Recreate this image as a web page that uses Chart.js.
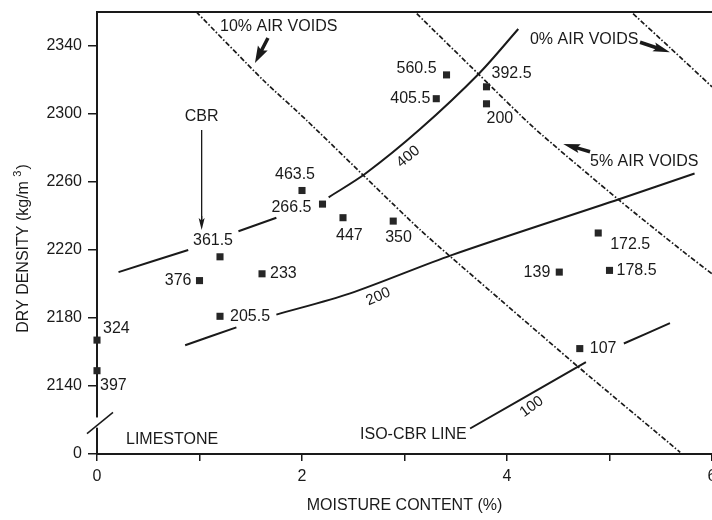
<!DOCTYPE html>
<html><head><meta charset="utf-8">
<script src="https://cdn.jsdelivr.net/npm/chart.js@4.4.1/dist/chart.umd.min.js"></script>
<style>
html,body{margin:0;padding:0;background:#fff;overflow:hidden;width:712px;height:520px;}
#wrap{position:absolute;left:0;top:0;width:740px;height:520px;}
</style></head><body>
<div id="wrap"><canvas id="c" width="740" height="520"></canvas></div>
<script>
// ---- data ----
const pointLabels = ['560.5','405.5','392.5','200','463.5','266.5','447','350','361.5','376','233','205.5','324','397','172.5','139','178.5','107'];
const pointX = [3.41, 3.31, 3.80, 3.80, 2.00, 2.20, 2.40, 2.89, 1.20, 1.00, 1.61, 1.20, 0.00, 0.00, 4.89, 4.51, 5.00, 4.71];
const pointY = [2323, 2309, 2316, 2306, 2255, 2247, 2239, 2237, 2216, 2202, 2206, 2181, 2167, 2149, 2230, 2207, 2208, 2162];

// iso-CBR lines (null = gap left for a label)
const cbr400X = [0.21, 0.89, 1.10, 1.38, 1.75, 2.00, 2.26, 2.62, 3.15, 3.73, 4.11];
const cbr400Y = [2207, 2220, null, 2231, 2239, null, 2251, 2265, 2291, 2324, 2350];
const cbr200X = [0.86, 1.36, 1.55, 1.75, 2.47, 3.46, 5.10, 5.83];
const cbr200Y = [2164, 2174.5, null, 2182, 2194.5, 2217, 2250, 2265];
const cbr100X = [3.64, 4.77, 4.95, 5.14, 5.59];
const cbr100Y = [2115, 2154, null, 2165, 2177];

// air-voids lines
const av10X = [0.97, 1.62, 2.05, 3.15, 3.93, 4.70, 5.69];
const av10Y = [2360, 2320, 2296, 2232, 2191, 2151, 2101];
const av5X = [3.12, 3.73, 4.26, 5.10, 5.72, 6.00];
const av5Y = [2359, 2323, 2292, 2249, 2219, 2206];
const av0X = [5.23, 5.59, 6.00];
const av0Y = [2359, 2339, 2316];

// axis ticks
const xTickValues = [0, 1, 2, 3, 4, 5, 6];
const xTickLabels = ['0', '', '2', '', '4', '', '6'];
const yTickValues = [2100, 2140, 2180, 2220, 2260, 2300, 2340];
const yTickLabels = ['0', '2140', '2180', '2220', '2260', '2300', '2340'];

// ---- layout / styling (not data) ----
// label placement relative to its marker: [dx, dy, align]
const labelPlace = [
  [-10,-6,'right'],[-6,0,'right'],[5,-13,'left'],[0,15,'left'],[-7,-16,'center'],[-11,3,'right'],
  [-7,18,'left'],[-8,16,'left'],[-7,-16,'center'],[-8,0,'right'],[8,0,'left'],[10,0,'left'],
  [6,-12,'left'],[3,15,'left'],[12,12,'left'],[-9,0,'right'],[7,0,'left'],[10,0,'left']
];
const INK = '#1a1a1a';
const FONT = '"Liberation Sans", Arial, Helvetica, sans-serif';

function pts(xs, ys){ return xs.map((x,i)=>({x:x, y:ys[i]})); }
function lineDs(label, xs, ys, dashed){
  return {label, data: pts(xs, ys), showLine:true, pointRadius:0, pointHoverRadius:0,
    borderColor: INK, borderWidth: dashed ? 1.7 : 2, borderDash: dashed ? [5,2,1.5,2] : [],
    tension: dashed ? 0.2 : 0.3, spanGaps:false, fill:false};
}

const annot = {
  id:'annot',
  afterDraw(chart){
    const ctx = chart.ctx, xs = chart.scales.x, ys = chart.scales.y, ca = chart.chartArea;
    const X = v => xs.getPixelForValue(v), Y = v => ys.getPixelForValue(v);
    ctx.save();
    ctx.fillStyle = INK; ctx.strokeStyle = INK;
    // top frame line
    ctx.lineWidth = 2;
    ctx.beginPath(); ctx.moveTo(ca.left - 1, ca.top); ctx.lineTo(ca.right + 3, ca.top); ctx.stroke();
    // axis break
    ctx.fillStyle = '#fff';
    ctx.fillRect(ca.left - 3, Y(2121.5), 6, Y(2115.5) - Y(2121.5));
    ctx.fillStyle = INK;
    ctx.lineWidth = 1.5;
    ctx.beginPath(); ctx.moveTo(ca.left - 10, Y(2112)); ctx.lineTo(ca.left + 16, Y(2124.5)); ctx.stroke();

    // arrows
    function fatArrow(x1,y1,x2,y2,headLen,headW,shaftW){
      const a = Math.atan2(y2-y1, x2-x1), L = Math.hypot(x2-x1,y2-y1);
      ctx.save(); ctx.translate(x1,y1); ctx.rotate(a);
      ctx.beginPath();
      ctx.moveTo(0,-shaftW/2); ctx.lineTo(L-headLen,-shaftW/2); ctx.lineTo(L-headLen-2,-headW/2);
      ctx.lineTo(L,0); ctx.lineTo(L-headLen-2,headW/2); ctx.lineTo(L-headLen,shaftW/2); ctx.lineTo(0,shaftW/2);
      ctx.closePath(); ctx.fill(); ctx.restore();
    }
    fatArrow(X(1.668),Y(2344.7),X(1.541),Y(2330),15,11,3.5);
    fatArrow(X(5.298),Y(2342.2),X(5.59),Y(2336.3),15,9,3.5);
    fatArrow(X(4.81),Y(2277.8),X(4.549),Y(2282.4),15,9,3.5);
    // CBR thin arrow
    ctx.lineWidth = 1.3;
    ctx.beginPath(); ctx.moveTo(X(1.021),Y(2290.6)); ctx.lineTo(X(1.021),Y(2236)); ctx.stroke();
    fatArrow(X(1.021),Y(2240),X(1.021),Y(2231.8),10,6,1.3);

    // annotation texts
    ctx.textBaseline = 'middle';
    ctx.font = '16px ' + FONT;
    function txt(s, x, y, align){ ctx.textAlign = align; ctx.fillText(s, x, y); }
    txt('10% AIR VOIDS', X(1.20), Y(2351.3), 'left');
    txt('0% AIR VOIDS', X(4.224), Y(2343.5), 'left');
    txt('5% AIR VOIDS', X(4.81), Y(2271.9), 'left');
    txt('CBR', X(1.021), Y(2298.4), 'center');
    txt('LIMESTONE', X(0.283), Y(2108.6), 'left');
    txt('ISO-CBR LINE', X(2.566), Y(2111.2), 'left');
    function rot(s, x, y, deg){
      ctx.save(); ctx.translate(x,y); ctx.rotate(deg*Math.PI/180);
      ctx.textAlign='center'; ctx.fillText(s,0,0); ctx.restore();
    }
    ctx.font = '15px ' + FONT;
    rot('400', X(3.037), Y(2274.9), -40);
    rot('200', X(2.744), Y(2192.5), -24);
    rot('100', X(4.241), Y(2127.8), -36);

    // point labels
    ctx.font = '16px ' + FONT;
    pointLabels.forEach((s,i)=>{
      const p = labelPlace[i];
      txt(s, X(pointX[i]) + p[0], Y(pointY[i]) + p[1], p[2]);
    });

    // axis titles
    ctx.textAlign = 'center';
    ctx.fillText('MOISTURE CONTENT (%)', (ca.left + ca.right)/2, 506);
    // y title with superscript
    ctx.save();
    ctx.translate(24, 249); ctx.rotate(-Math.PI/2);
    const main = 'DRY DENSITY (kg/m ';
    ctx.font = '16px ' + FONT;
    const w1 = ctx.measureText(main).width;
    ctx.font = '11px ' + FONT;
    const w2 = ctx.measureText('3').width;
    ctx.font = '16px ' + FONT;
    const w3 = ctx.measureText(')').width;
    let sx = -(w1+w2+w3)/2;
    ctx.textAlign = 'left';
    ctx.fillText(main, sx, 0);
    ctx.font = '11px ' + FONT;
    ctx.fillText('3', sx + w1, -6);
    ctx.font = '16px ' + FONT;
    ctx.fillText(')', sx + w1 + w2 + 1, 0);
    ctx.restore();
    ctx.restore();
  }
};

new Chart(document.getElementById('c').getContext('2d'), {
  type: 'scatter',
  data: { datasets: [
    lineDs('10% air voids', av10X, av10Y, true),
    lineDs('5% air voids', av5X, av5Y, true),
    lineDs('0% air voids', av0X, av0Y, true),
    lineDs('CBR 400', cbr400X, cbr400Y, false),
    lineDs('CBR 200', cbr200X, cbr200Y, false),
    lineDs('CBR 100', cbr100X, cbr100Y, false),
    { label:'CBR tests', data: pts(pointX, pointY), showLine:false, pointStyle:'rect', clip:false,
      pointRadius:5, pointHoverRadius:5, backgroundColor:'#262626', borderColor:'#262626', borderWidth:0 }
  ]},
  options: {
    responsive:false, animation:false, devicePixelRatio:1,
    layout:{ padding:{ left:0, right:28, top:12, bottom:0 } },
    plugins:{ legend:{display:false}, tooltip:{enabled:false} },
    scales:{
      x:{ type:'linear', min:0, max:6,
        afterBuildTicks: s => { s.ticks = xTickValues.map(v=>({value:v})); },
        afterFit: s => { s.height = 66; s.paddingLeft = 0; s.paddingRight = 0; },
        ticks:{ callback:(v)=> xTickLabels[xTickValues.indexOf(v)], autoSkip:false, maxRotation:0,
          font:{family:FONT, size:16}, color:INK, padding:6 },
        grid:{ display:true, drawOnChartArea:false, drawTicks:true, tickLength:7, color:INK, lineWidth:1.5 },
        border:{ display:true, color:INK, width:2 } },
      y:{ type:'linear', min:2100, max:2360,
        afterBuildTicks: s => { s.ticks = yTickValues.map(v=>({value:v})); },
        afterFit: s => { s.width = 97; s.paddingTop = 0; s.paddingBottom = 0; },
        ticks:{ callback:(v)=> yTickLabels[yTickValues.indexOf(v)], autoSkip:false,
          font:{family:FONT, size:16}, color:INK, padding:6 },
        grid:{ display:true, drawOnChartArea:false, drawTicks:true, tickLength:9, color:INK, lineWidth:1.5 },
        border:{ display:true, color:INK, width:2 } }
    }
  },
  plugins:[annot]
});
</script>
</body></html>
